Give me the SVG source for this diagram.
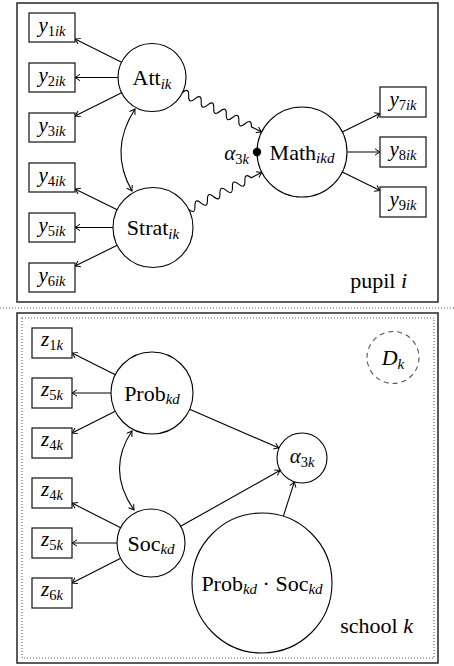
<svg xmlns="http://www.w3.org/2000/svg" width="454" height="666" viewBox="0 0 454 666">
<style>
text{font-family:"Liberation Serif","Times New Roman",serif;font-size:21px;fill:#000}
.lb{font-size:22px}
.it{font-style:italic}
.sb{font-size:14.5px}
.sb2{font-size:15px}
.box{fill:#fff;stroke:#222;stroke-width:1.3}
.nd{fill:#fff;stroke:#000;stroke-width:1.1}
.e{fill:none;stroke:#000;stroke-width:1.1;marker-end:url(#ah)}
.d{fill:none;stroke:#000;stroke-width:1.1;marker-start:url(#ah);marker-end:url(#ah)}
.frame{fill:none;stroke:#333;stroke-width:1.6}
.dot{fill:none;stroke:#555;stroke-width:1.1;stroke-dasharray:1 2}
</style>
<defs>
<marker id="ah" viewBox="-6 -4 7 8" refX="0" refY="0" markerWidth="7" markerHeight="8" markerUnits="userSpaceOnUse" orient="auto-start-reverse">
<path d="M-5,-3.2 Q-1.5,-0.8 0,0 Q-1.5,0.8 -5,3.2" fill="none" stroke="#000" stroke-width="1"/>
</marker>
</defs>
<rect width="454" height="666" fill="#fff"/>
<g id="frames">
<rect class="frame" x="17" y="3" width="421" height="299"/>
<line class="dot" x1="0" y1="308" x2="454" y2="308"/>
<rect class="frame" x="17" y="313" width="421" height="350"/>
<rect class="dot" x="22" y="318" width="412" height="340"/>
<text class="lb" x="407" y="288" text-anchor="end">pupil <tspan class="it">i</tspan></text>
<text class="lb" x="413" y="633" text-anchor="end">school <tspan class="it">k</tspan></text>
</g>
<g id="connectors">
<line class="e" x1="121.6" y1="62.3" x2="75" y2="39"/>
<line class="e" x1="118" y1="77.5" x2="75" y2="77.5"/>
<line class="e" x1="121.6" y1="92.7" x2="75" y2="116"/>
<line class="e" x1="117.2" y1="209.7" x2="75" y2="188.9"/>
<line class="e" x1="113" y1="227.5" x2="75" y2="227.5"/>
<line class="e" x1="117.2" y1="245.3" x2="75" y2="266.1"/>
<line class="e" x1="342.3" y1="132" x2="380" y2="113.4"/>
<line class="e" x1="347" y1="152" x2="380" y2="152"/>
<line class="e" x1="342.3" y1="172" x2="380" y2="190.6"/>
<path class="d" d="M135,109 Q108.5,150 132,191"/>
<g transform="translate(182.4,92.6) rotate(26.42)">
<path class="e" d="M0,0 q3.5,-8 7,0 t7,0 t7,0 t7,0 t7,0 t7,0 t7,0 t7,0 t7,0 t7,0 t7,0 l11.5,0"/>
</g>
<g transform="translate(188.7,209.4) rotate(-26.87)">
<path class="e" d="M0,0 q3.5,8 7,0 t7,0 t7,0 t7,0 t7,0 t7,0 t7,0 t7,0 t7,0 t7,0 l12.1,0"/>
</g>
<line class="e" x1="115.3" y1="374.7" x2="72" y2="353"/>
<line class="e" x1="111" y1="393" x2="72" y2="393"/>
<line class="e" x1="115.3" y1="411.3" x2="72" y2="433"/>
<line class="e" x1="120.7" y1="527.7" x2="72" y2="503.1"/>
<line class="e" x1="117" y1="543" x2="72" y2="543"/>
<line class="e" x1="120.7" y1="558.3" x2="72" y2="582.9"/>
<path class="d" d="M132,431 Q106,470 134,510"/>
<line class="e" x1="189.6" y1="409.3" x2="279.1" y2="448.1"/>
<line class="e" x1="180.6" y1="526.3" x2="280.2" y2="470.3"/>
<line class="e" x1="283.3" y1="516.3" x2="294.4" y2="481.8"/>
</g>
<g id="y1"><rect class="box" x="29" y="13" width="46" height="29"/><text x="52" y="32" text-anchor="middle"><tspan class="it">y</tspan><tspan class="sb" dy="3.5">1<tspan class="it">ik</tspan></tspan></text></g>
<g id="y2"><rect class="box" x="29" y="63" width="46" height="29"/><text x="52" y="82" text-anchor="middle"><tspan class="it">y</tspan><tspan class="sb" dy="3.5">2<tspan class="it">ik</tspan></tspan></text></g>
<g id="y3"><rect class="box" x="29" y="113" width="46" height="29"/><text x="52" y="132" text-anchor="middle"><tspan class="it">y</tspan><tspan class="sb" dy="3.5">3<tspan class="it">ik</tspan></tspan></text></g>
<g id="y4"><rect class="box" x="29" y="163" width="46" height="29"/><text x="52" y="182" text-anchor="middle"><tspan class="it">y</tspan><tspan class="sb" dy="3.5">4<tspan class="it">ik</tspan></tspan></text></g>
<g id="y5"><rect class="box" x="29" y="213" width="46" height="29"/><text x="52" y="232" text-anchor="middle"><tspan class="it">y</tspan><tspan class="sb" dy="3.5">5<tspan class="it">ik</tspan></tspan></text></g>
<g id="y6"><rect class="box" x="29" y="263" width="46" height="29"/><text x="52" y="282" text-anchor="middle"><tspan class="it">y</tspan><tspan class="sb" dy="3.5">6<tspan class="it">ik</tspan></tspan></text></g>
<g id="y7"><rect class="box" x="380" y="87" width="46" height="30"/><text x="403" y="106" text-anchor="middle"><tspan class="it">y</tspan><tspan class="sb" dy="3.5">7<tspan class="it">ik</tspan></tspan></text></g>
<g id="y8"><rect class="box" x="380" y="137" width="46" height="30"/><text x="403" y="156" text-anchor="middle"><tspan class="it">y</tspan><tspan class="sb" dy="3.5">8<tspan class="it">ik</tspan></tspan></text></g>
<g id="y9"><rect class="box" x="380" y="187" width="46" height="30"/><text x="403" y="206" text-anchor="middle"><tspan class="it">y</tspan><tspan class="sb" dy="3.5">9<tspan class="it">ik</tspan></tspan></text></g>
<g id="att"><circle class="nd" cx="152" cy="77.5" r="34"/><text class="lb" x="152" y="85" text-anchor="middle">Att<tspan class="sb2 it" dy="3.5">ik</tspan></text></g>
<g id="strat"><circle class="nd" cx="153" cy="227.5" r="40"/><text class="lb" x="153" y="235" text-anchor="middle">Strat<tspan class="sb2 it" dy="3.5">ik</tspan></text></g>
<g id="math"><circle class="nd" cx="302" cy="152" r="45"/><text class="lb" x="302" y="159.5" text-anchor="middle">Math<tspan class="sb2 it" dy="3.5">ikd</tspan></text></g>
<g id="alpha-dot"><circle cx="257" cy="152" r="4.2" fill="#000"/><text x="249" y="160" text-anchor="end"><tspan class="it">α</tspan><tspan class="sb" dy="3.5">3<tspan class="it">k</tspan></tspan></text></g>
<g id="z1"><rect class="box" x="32" y="328" width="40" height="30"/><text x="52" y="346" text-anchor="middle"><tspan class="it">z</tspan><tspan class="sb" dy="3.5">1<tspan class="it">k</tspan></tspan></text></g>
<g id="z5a"><rect class="box" x="32" y="378" width="40" height="30"/><text x="52" y="396" text-anchor="middle"><tspan class="it">z</tspan><tspan class="sb" dy="3.5">5<tspan class="it">k</tspan></tspan></text></g>
<g id="z4a"><rect class="box" x="32" y="428" width="40" height="30"/><text x="52" y="446" text-anchor="middle"><tspan class="it">z</tspan><tspan class="sb" dy="3.5">4<tspan class="it">k</tspan></tspan></text></g>
<g id="z4b"><rect class="box" x="32" y="478" width="40" height="30"/><text x="52" y="496" text-anchor="middle"><tspan class="it">z</tspan><tspan class="sb" dy="3.5">4<tspan class="it">k</tspan></tspan></text></g>
<g id="z5b"><rect class="box" x="32" y="528" width="40" height="30"/><text x="52" y="546" text-anchor="middle"><tspan class="it">z</tspan><tspan class="sb" dy="3.5">5<tspan class="it">k</tspan></tspan></text></g>
<g id="z6"><rect class="box" x="32" y="578" width="40" height="30"/><text x="52" y="596" text-anchor="middle"><tspan class="it">z</tspan><tspan class="sb" dy="3.5">6<tspan class="it">k</tspan></tspan></text></g>
<g id="prob"><circle class="nd" cx="152" cy="393" r="41"/><text class="lb" x="152" y="400.5" text-anchor="middle">Prob<tspan class="sb2 it" dy="3.5">kd</tspan></text></g>
<g id="soc"><circle class="nd" cx="151" cy="543" r="34"/><text class="lb" x="151" y="550.5" text-anchor="middle">Soc<tspan class="sb2 it" dy="3.5">kd</tspan></text></g>
<g id="alpha"><circle class="nd" cx="302" cy="458" r="25"/><text x="302" y="463" text-anchor="middle"><tspan class="it">α</tspan><tspan class="sb" dy="3.5">3<tspan class="it">k</tspan></tspan></text></g>
<g id="product"><circle class="nd" cx="262" cy="583" r="70"/><text class="lb" x="262" y="590.5" text-anchor="middle">Prob<tspan class="sb2 it" dy="3.5">kd</tspan><tspan dy="-3.5"> · Soc</tspan><tspan class="sb2 it" dy="3.5">kd</tspan></text></g>
<g id="dk"><circle cx="393" cy="357.5" r="26" fill="none" stroke="#555" stroke-width="1.1" stroke-dasharray="5 4"/><text class="lb" x="393" y="365" text-anchor="middle"><tspan class="it">D</tspan><tspan class="sb2 it" dy="3.5">k</tspan></text></g>
</svg>
